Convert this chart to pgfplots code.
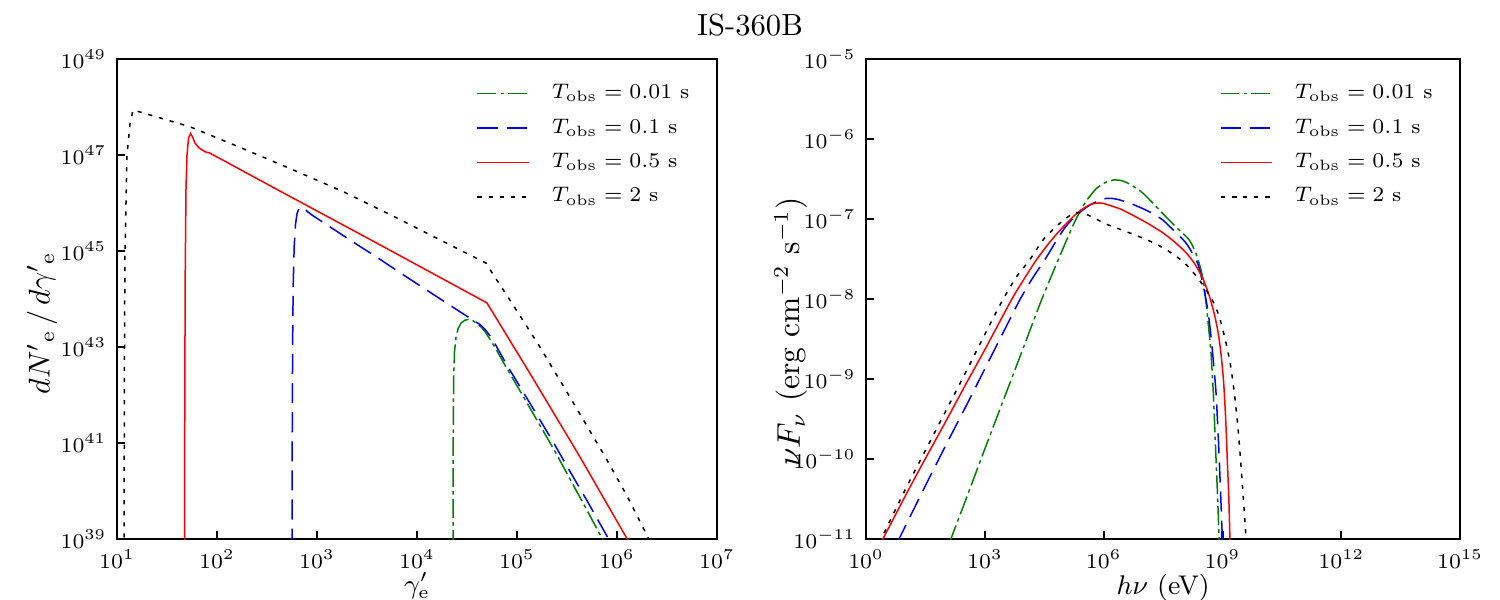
\documentclass[border=0pt]{standalone}
\usepackage{pgfplots}
\pgfplotsset{compat=1.18}
\usepackage{pgfplotstable}

% ---------- electron spectra dN'/dgamma' (columns: log10 gamma', log10 dN/dgamma) ----------
\pgfplotstableread{
lx     ly
4.360  38.80
4.362  41.00
4.366  42.30
4.375  42.90
4.390  43.20
4.410  43.38
4.440  43.50
4.480  43.56
4.520  43.58
4.560  43.55
4.600  43.49
4.640  43.42
4.680  43.32
4.750  43.10
4.900  42.55
5.060  41.98
5.360  40.90
5.460  40.52
5.700  39.60
5.880  38.90
}\elecA
\pgfplotstableread{
lx     ly
2.750  38.80
2.752  41.00
2.756  43.00
2.762  44.30
2.772  45.10
2.785  45.55
2.800  45.78
2.820  45.89
2.847  45.92
2.870  45.89
2.900  45.83
2.950  45.75
3.330  45.23
3.600  44.87
3.830  44.55
4.080  44.21
4.330  43.87
4.560  43.56
4.630  43.47
4.680  43.37
4.750  43.18
4.900  42.62
5.060  42.07
5.360  41.03
5.460  40.66
5.700  39.80
5.930  38.95
}\elecB
\pgfplotstableread{
lx     ly
1.675  38.80
1.678  42.00
1.682  44.50
1.690  46.30
1.700  47.00
1.715  47.35
1.735  47.45
1.755  47.38
1.780  47.25
1.820  47.15
1.880  47.07
1.930  47.04
2.630  46.25
3.630  45.13
4.700  43.92
4.740  43.78
5.130  42.45
5.630  40.71
6.130  38.90
}\elecC
\pgfplotstableread{
lx     ly
1.070  38.80
1.075  43.00
1.080  45.00
1.100  47.00
1.130  47.65
1.160  47.94
1.730  47.59
2.300  47.10
2.830  46.63
3.260  46.24
3.770  45.72
4.300  45.16
4.690  44.75
4.750  44.55
4.960  43.88
5.230  43.00
5.560  41.85
5.880  40.72
6.100  39.90
6.330  38.95
}\elecD

% ---------- nuFnu spectra (columns: log10 hnu [eV], log10 nuFnu [erg cm^-2 s^-1]) ----------
\pgfplotstableread{
lx     ly
2.10  -11.05
2.50  -10.53
3.00   -9.87
3.50   -9.22
4.00   -8.57
4.43   -8.01
4.85   -7.51
5.10   -7.22
5.31   -6.99
5.55   -6.78
5.81   -6.62
6.05   -6.54
6.27   -6.51
6.45   -6.52
6.65   -6.56
7.00   -6.68
7.49   -6.93
7.83   -7.10
8.16   -7.26
8.33   -7.43
8.46   -7.64
8.54   -7.85
8.63   -8.26
8.71   -8.68
8.77   -9.20
8.82   -9.80
8.87  -10.40
8.92  -11.05
}\photA
\pgfplotstableread{
lx     ly
0.78  -11.05
1.50  -10.33
2.00   -9.84
2.50   -9.36
3.00   -8.87
3.50   -8.38
3.88   -8.01
4.20   -7.74
4.51   -7.51
4.78   -7.29
5.03   -7.10
5.25   -6.98
5.46   -6.89
5.70   -6.81
5.98   -6.75
6.15   -6.74
6.32   -6.75
6.60   -6.79
6.90   -6.85
7.20   -6.92
7.49   -7.01
7.66   -7.09
8.08   -7.30
8.37   -7.55
8.50   -7.80
8.63   -8.14
8.71   -8.47
8.79   -8.89
8.84   -9.20
8.90   -9.80
8.95  -10.40
9.00  -11.05
}\photB
\pgfplotstableread{
lx     ly
0.37  -11.05
1.00  -10.45
1.50   -9.99
2.00   -9.54
2.50   -9.08
3.00   -8.63
3.67   -8.01
4.00   -7.74
4.30   -7.51
4.65   -7.28
4.97   -7.10
5.25   -6.96
5.48   -6.87
5.65   -6.82
5.81   -6.80
5.95   -6.80
6.10   -6.82
6.40   -6.87
6.65   -6.93
7.10   -7.05
7.49   -7.17
7.80   -7.29
8.08   -7.42
8.30   -7.56
8.50   -7.74
8.66   -7.95
8.80   -8.20
8.90   -8.45
8.97   -8.72
9.03   -9.05
9.08   -9.50
9.12  -10.00
9.16  -10.50
9.19  -11.05
}\photC
\pgfplotstableread{
lx     ly
0.33  -11.05
1.00  -10.37
1.50   -9.89
2.00   -9.41
2.50   -8.93
3.04   -8.40
3.45   -8.01
3.80   -7.72
4.13   -7.51
4.47   -7.26
4.85   -7.07
5.22   -6.93
5.40   -6.92
5.52   -6.93
5.81   -7.00
6.10   -7.07
6.48   -7.14
6.90   -7.22
7.32   -7.31
7.70   -7.42
8.00   -7.53
8.25   -7.66
8.50   -7.82
8.75   -8.02
8.92   -8.22
9.09   -8.55
9.21   -8.85
9.30   -9.18
9.38   -9.55
9.45   -9.97
9.52  -10.45
9.59  -10.95
9.61  -11.05
}\photD

\definecolor{mplgreen}{rgb}{0,0.5,0}

\pgfplotsset{
  every axis/.append style={
    scale only axis,
    height=160pt,
    axis line style={line width=0.7pt},
    every tick/.append style={black, line width=0.7pt},
    minor tick style={draw=none},
    major tick length=2.7pt,
    tick align=inside,
    tick pos=left,
    tick label style={font=\fontsize{6.8}{8}\selectfont},
    xlabel style={font=\fontsize{9}{11}\selectfont},
    ylabel style={font=\fontsize{10.5}{12}\selectfont},
    legend cell align=left,
    legend style={draw=none, fill=none, at={(1,1)}, anchor=north east,
      xshift=-4pt, yshift=-4.2pt,
      font=\fontsize{6.8}{8}\selectfont,
      row sep=1.2pt, column sep=5.5pt},
  },
}

\begin{document}
\begin{tikzpicture}
\useasboundingbox (0,0) rectangle (500pt,200pt);

\node[font=\fontsize{10.2}{12}\selectfont] at (250pt,191.7pt) {IS-360B};

% electron distribution
\begin{loglogaxis}[
  at={(39pt,20.3pt)}, anchor=south west,
  width=200pt,
  xmin=1e1, xmax=1e7, ymin=1e39, ymax=1e49,
  xtick={1e1,1e2,1e3,1e4,1e5,1e6,1e7},
  ytick={1e39,1e41,1e43,1e45,1e47,1e49},
  xlabel={$\gamma'_{\mathrm{e}}$},
  ylabel={$dN'{}_{\mathrm{e}}\,/\,d\gamma'{}_{\mathrm{e}}$},
  ylabel style={font=\fontsize{10}{12}\selectfont},
  xlabel style={at={(axis description cs:0.5,0)}, anchor=center, yshift=-15.6pt},
  ylabel style={at={(axis description cs:0,0.5)}, anchor=center, yshift=25pt, xshift=-8pt},
]
\addplot[color=mplgreen, draw=mplgreen, line width=0.5pt, dash pattern=on 6.3pt off 1.4pt on 1.2pt off 1.4pt]
  table[x expr=10^(\thisrow{lx}), y expr=10^(\thisrow{ly})] {\elecA};
\addlegendentry{$T_{\mathrm{obs}} = 0.01$ s}
\addplot[color=blue, draw=blue, line width=0.5pt, dash pattern=on 6.7pt off 3pt]
  table[x expr=10^(\thisrow{lx}), y expr=10^(\thisrow{ly})] {\elecB};
\addlegendentry{$T_{\mathrm{obs}} = 0.1$ s}
\addplot[color=red, draw=red, solid, line width=0.5pt]
  table[x expr=10^(\thisrow{lx}), y expr=10^(\thisrow{ly})] {\elecC};
\addlegendentry{$T_{\mathrm{obs}} = 0.5$ s}
\addplot[color=black, draw=black, line width=0.5pt, dash pattern=on 1.4pt off 2.3pt]
  table[x expr=10^(\thisrow{lx}), y expr=10^(\thisrow{ly})] {\elecD};
\addlegendentry{$T_{\mathrm{obs}} = 2$ s}
\end{loglogaxis}

% photon spectrum
\begin{loglogaxis}[
  at={(288.7pt,20.3pt)}, anchor=south west,
  width=198pt,
  xmin=1e0, xmax=1e15, ymin=1e-11, ymax=1e-5,
  xtick={1e0,1e3,1e6,1e9,1e12,1e15},
  ytick={1e-11,1e-10,1e-9,1e-8,1e-7,1e-6,1e-5},
  xlabel={$h\nu$ (eV)},
  ylabel={$\nu F_\nu$ (erg cm$^{-2}$ s$^{-1}$)},
  xlabel style={at={(axis description cs:0.5,0)}, anchor=center, yshift=-16.2pt},
  ylabel style={at={(axis description cs:0,0.5)}, anchor=center, yshift=25pt, xshift=-11pt},
]
\addplot[color=mplgreen, draw=mplgreen, line width=0.5pt, dash pattern=on 6.3pt off 1.4pt on 1.2pt off 1.4pt, smooth, tension=0.4]
  table[x expr=10^(\thisrow{lx}), y expr=10^(\thisrow{ly})] {\photA};
\addlegendentry{$T_{\mathrm{obs}} = 0.01$ s}
\addplot[color=blue, draw=blue, line width=0.5pt, dash pattern=on 6.7pt off 3pt, smooth, tension=0.4]
  table[x expr=10^(\thisrow{lx}), y expr=10^(\thisrow{ly})] {\photB};
\addlegendentry{$T_{\mathrm{obs}} = 0.1$ s}
\addplot[color=red, draw=red, solid, line width=0.5pt, smooth, tension=0.4]
  table[x expr=10^(\thisrow{lx}), y expr=10^(\thisrow{ly})] {\photC};
\addlegendentry{$T_{\mathrm{obs}} = 0.5$ s}
\addplot[color=black, draw=black, line width=0.5pt, dash pattern=on 1.4pt off 2.3pt, smooth, tension=0.4]
  table[x expr=10^(\thisrow{lx}), y expr=10^(\thisrow{ly})] {\photD};
\addlegendentry{$T_{\mathrm{obs}} = 2$ s}
\end{loglogaxis}
\end{tikzpicture}
\end{document}
